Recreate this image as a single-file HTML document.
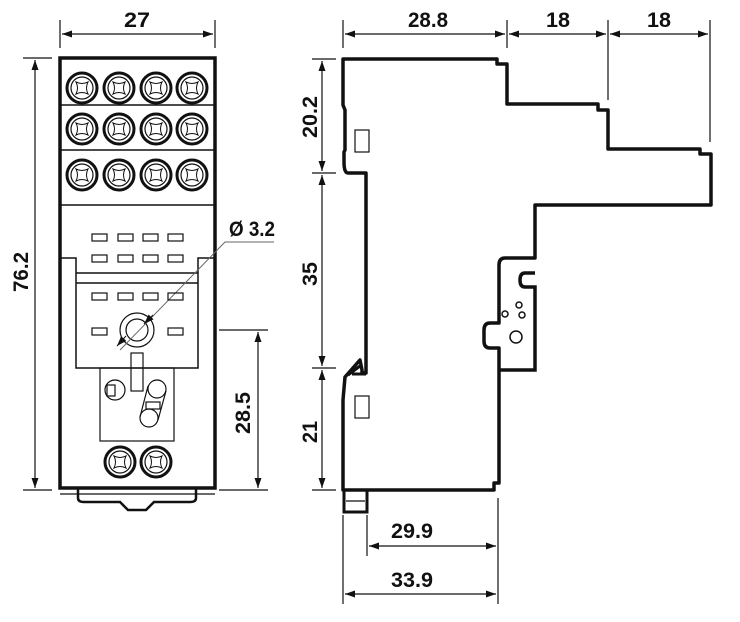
<!DOCTYPE html>
<html><head><style>html,body{margin:0;padding:0;background:#fff}svg{display:block}
text{font-family:"Liberation Sans",sans-serif;font-weight:bold;font-size:21px;fill:#111}</style></head>
<body>
<svg width="740" height="622" viewBox="0 0 740 622" xmlns="http://www.w3.org/2000/svg">
<defs>
<marker id="a" viewBox="0 0 10 10" refX="10" refY="5" markerWidth="12" markerHeight="10" orient="auto-start-reverse" markerUnits="userSpaceOnUse"><path d="M0,1.5 L10,5 L0,8.5z" fill="#111"/></marker>
<g id="s"><circle r="15" fill="none" stroke="#111" stroke-width="3"/><circle r="11" fill="none" stroke="#111" stroke-width="1.2"/><path d="M-6,-6 Q0,-3 6,-6 Q3,0 6,6 Q0,3 -6,6 Q-3,0 -6,-6z" fill="none" stroke="#111" stroke-width="1"/></g>
<rect id="r" width="15" height="7" fill="none" stroke="#111" stroke-width="1.2"/>
</defs>
<g stroke="#111" fill="none">
<rect x="60" y="58" width="155" height="430" stroke-width="3.5"/>
<line x1="60" y1="105" x2="215" y2="105" stroke-width="1.5"/>
<line x1="60" y1="150" x2="215" y2="150" stroke-width="1.5"/>
<line x1="60" y1="205" x2="215" y2="205" stroke-width="1.5"/>
<path d="M60,258 H76 V368 H198 V258 H215" stroke-width="1.5"/>
<line x1="76" y1="273" x2="198" y2="273" stroke-width="1.5"/>
<line x1="76" y1="283" x2="198" y2="283" stroke-width="1.5"/>
<rect x="100" y="368" width="74" height="73" stroke-width="1.2"/>
<rect x="131" y="353" width="12" height="38" stroke-width="1.2"/>
<circle cx="137" cy="330" r="17" stroke-width="1.2"/><circle cx="137" cy="330" r="11" stroke-width="1.2"/>
<circle cx="115" cy="390" r="10" stroke-width="1.2"/><rect x="107" y="385" width="8" height="11" stroke-width="1.2"/>
<circle cx="157" cy="389" r="9" stroke-width="1.2"/><circle cx="149" cy="418" r="9" stroke-width="1.2"/>
<path d="M148,386 L140,417 M166,391 L158,420" stroke-width="1.2"/>
<rect x="146" y="402" width="14" height="7" stroke-width="1.2"/>
<path d="M78,488 V498 Q78,502 84,502 H120 L128,510 H146 L154,502 H190 Q196,502 196,498 V488" stroke-width="2.5"/>
<line x1="60" y1="494" x2="215" y2="494" stroke-width="1.2"/>
<path d="M274,242 H225 L120,350" stroke-width="1" stroke="#666"/>
<path d="M343,59 H497 V64 H507 V104 H598 V110 H608 V149 H700 V154 H711 V205 H535 V258 H505 Q499,258 499,265 V323 H490 Q484,323 484,330 V341 Q484,348 490,348 H499 V483 H494 V490 H343 V400 L345,377 L360,360 L362,370 V373 H366 V173 H348 Q344,173 344,162 V152 L345,150 V110 L343,105 Z" stroke-width="3.5" stroke-linejoin="round"/>
<path d="M499,370 H535 V287 H525 Q520,287 520,280 Q520,273 525,273 H535" stroke-width="3.5"/>
<path d="M348,375 L360,366 M352,374 L366,374" stroke-width="3"/>
<rect x="355" y="130" width="14" height="22" stroke-width="1.2"/>
<rect x="355" y="396" width="14" height="22" stroke-width="1.2"/>
<rect x="344" y="490" width="23" height="22" stroke-width="3"/>
<line x1="346" y1="501" x2="365" y2="501" stroke-width="1.2"/>
<circle cx="516" cy="337" r="6" stroke-width="1.5"/>
<circle cx="505" cy="314" r="3" stroke-width="1.5"/><circle cx="519" cy="305" r="3" stroke-width="1.5"/><circle cx="522" cy="315" r="3" stroke-width="1.5"/>
<g stroke-width="1.2">
<line x1="60" y1="20" x2="60" y2="48"/><line x1="215" y1="20" x2="215" y2="48"/>
<line x1="23" y1="58" x2="52" y2="58"/><line x1="23" y1="490" x2="52" y2="490"/>
<line x1="219" y1="330" x2="268" y2="330"/><line x1="219" y1="490" x2="268" y2="490"/>
<line x1="343" y1="20" x2="343" y2="48"/><line x1="507" y1="20" x2="507" y2="48"/><line x1="608" y1="20" x2="608" y2="100"/><line x1="710" y1="20" x2="710" y2="142"/>
<line x1="312" y1="59" x2="336" y2="59"/><line x1="312" y1="173" x2="336" y2="173"/><line x1="312" y1="368" x2="336" y2="368"/><line x1="312" y1="490" x2="336" y2="490"/>
<line x1="367" y1="515" x2="367" y2="556"/><line x1="498" y1="498" x2="498" y2="604"/><line x1="343" y1="515" x2="343" y2="604"/>
</g>
<g stroke-width="1.2" marker-start="url(#a)" marker-end="url(#a)">
<line x1="62" y1="34" x2="213" y2="34"/>
<line x1="35" y1="60" x2="35" y2="488"/>
<line x1="258" y1="332" x2="258" y2="488"/>
<line x1="345" y1="34" x2="505" y2="34"/><line x1="509" y1="34" x2="606" y2="34"/><line x1="610" y1="34" x2="708" y2="34"/>
<line x1="322" y1="61" x2="322" y2="171"/><line x1="322" y1="175" x2="322" y2="366"/><line x1="322" y1="370" x2="322" y2="488"/>
<line x1="369" y1="546" x2="496" y2="546"/><line x1="345" y1="594" x2="496" y2="594"/>
</g>
<line x1="117" y1="346" x2="126" y2="336" stroke-width="1" marker-start="url(#a)"/>
<line x1="153" y1="315" x2="144" y2="324" stroke-width="1" marker-end="url(#a)"/>
</g>
<g>
<use href="#s" x="82" y="88"/><use href="#s" x="119" y="88"/><use href="#s" x="156" y="88"/><use href="#s" x="192" y="88"/>
<use href="#s" x="82" y="129"/><use href="#s" x="119" y="129"/><use href="#s" x="156" y="129"/><use href="#s" x="192" y="129"/>
<use href="#s" x="82" y="175"/><use href="#s" x="119" y="175"/><use href="#s" x="156" y="175"/><use href="#s" x="192" y="175"/>
<use href="#s" x="120" y="462"/><use href="#s" x="156" y="462"/>
<use href="#r" x="92" y="234"/><use href="#r" x="118" y="234"/><use href="#r" x="143" y="234"/><use href="#r" x="168" y="234"/>
<use href="#r" x="92" y="255"/><use href="#r" x="118" y="255"/><use href="#r" x="143" y="255"/><use href="#r" x="168" y="255"/>
<use href="#r" x="92" y="293"/><use href="#r" x="118" y="293"/><use href="#r" x="143" y="293"/><use href="#r" x="168" y="293"/>
<use href="#r" x="92" y="328"/><use href="#r" x="168" y="328"/>
</g>
<text x="124" y="27" textLength="26" lengthAdjust="spacingAndGlyphs">27</text>
<text x="408" y="27" textLength="40" lengthAdjust="spacingAndGlyphs">28.8</text>
<text x="546" y="27" textLength="24" lengthAdjust="spacingAndGlyphs">18</text>
<text x="647" y="27" textLength="24" lengthAdjust="spacingAndGlyphs">18</text>
<text x="229" y="236" textLength="46" lengthAdjust="spacingAndGlyphs">Ø 3.2</text>
<text x="391" y="538" textLength="42" lengthAdjust="spacingAndGlyphs">29.9</text>
<text x="391" y="587" textLength="42" lengthAdjust="spacingAndGlyphs">33.9</text>
<text transform="translate(28,292) rotate(-90)" textLength="40" lengthAdjust="spacingAndGlyphs">76.2</text>
<text transform="translate(250,434) rotate(-90)" textLength="42" lengthAdjust="spacingAndGlyphs">28.5</text>
<text transform="translate(317,138) rotate(-90)" textLength="42" lengthAdjust="spacingAndGlyphs">20.2</text>
<text transform="translate(317,286) rotate(-90)" textLength="24" lengthAdjust="spacingAndGlyphs">35</text>
<text transform="translate(317,443) rotate(-90)" textLength="22" lengthAdjust="spacingAndGlyphs">21</text>
</svg>
</body></html>
